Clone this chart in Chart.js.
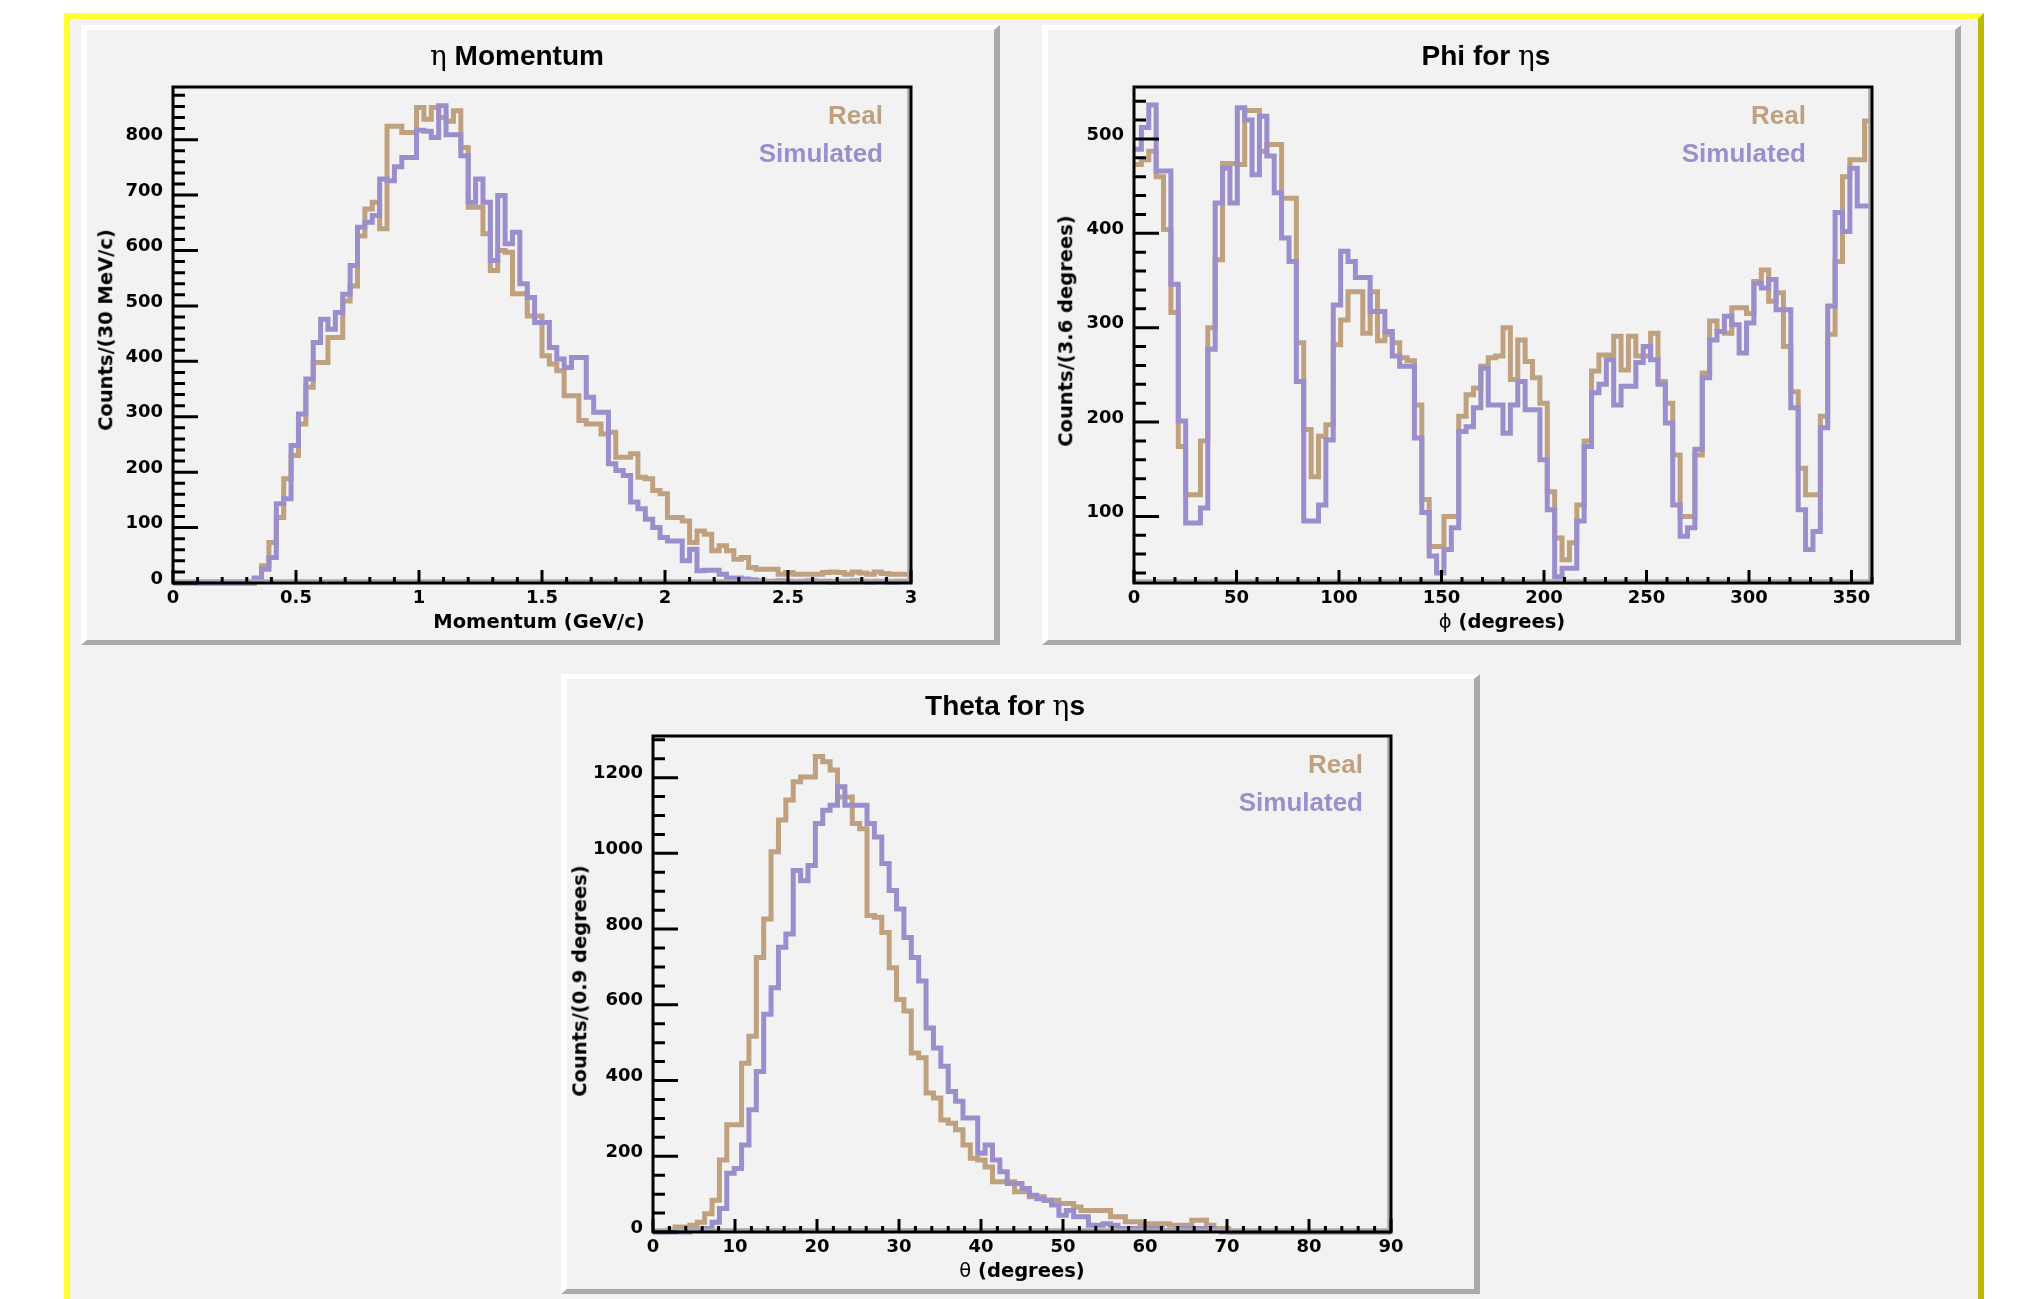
<!DOCTYPE html>
<html>
<head>
<meta charset="utf-8">
<script src="https://cdn.jsdelivr.net/npm/chart.js@4.4.1/dist/chart.umd.min.js"></script>
<style>
html,body{margin:0;padding:0;background:#fff;}
body{width:2036px;height:1299px;overflow:hidden;position:relative;}
#yframe{position:absolute;left:64px;top:13px;width:1908px;height:1330px;border:6px solid;border-color:#ffff33 #b9b900 #b9b900 #ffff33;background:#f2f2f2;}
.pad{position:absolute;width:919px;height:620px;box-sizing:border-box;border-style:solid;border-width:5px 6px 5px 6px;border-color:#ffffff #aaaaaa #aaaaaa #ffffff;background:#f2f2f2;}
canvas{position:absolute;}
.title{position:absolute;font-family:"Liberation Sans",Arial,sans-serif;font-weight:bold;font-size:28px;line-height:28px;color:#000;white-space:nowrap;transform:translateX(-50%);}
.greek{font-family:"DejaVu Serif",serif;font-weight:normal;}
.leg{position:absolute;width:300px;text-align:right;font-family:"Liberation Sans",Arial,sans-serif;font-weight:bold;font-size:26px;line-height:26px;white-space:nowrap;}
.xt{position:absolute;font-family:"DejaVu Sans",sans-serif;font-weight:bold;font-size:19.5px;line-height:19.5px;color:#000;white-space:nowrap;transform:translateX(-50%);}
.yt{position:absolute;font-family:"DejaVu Sans",sans-serif;font-weight:bold;font-size:19.5px;line-height:19.5px;color:#000;white-space:nowrap;transform:translate(-50%,-50%) rotate(-90deg);}
.sym{font-family:"DejaVu Sans",sans-serif;font-weight:normal;}
</style>
</head>
<body>
<div id="yframe"></div>
<div class="pad" style="left:81px;top:25px;"></div>
<div class="pad" style="left:1042px;top:25px;"></div>
<div class="pad" style="left:561px;top:674px;"></div>
<canvas id="c1" width="919" height="620" style="left:81px;top:25px;"></canvas>
<canvas id="c2" width="919" height="620" style="left:1042px;top:25px;"></canvas>
<canvas id="c3" width="919" height="620" style="left:561px;top:674px;"></canvas>

<div class="title" style="left:517px;top:42px;"><span class="greek">η</span> Momentum</div>
<div class="title" style="left:1486px;top:42px;">Phi for <span class="greek">η</span>s</div>
<div class="title" style="left:1005px;top:692px;">Theta for <span class="greek">η</span>s</div>

<div class="leg" style="left:583px;top:102px;color:#bfa07f;">Real</div>
<div class="leg" style="left:583px;top:140px;color:#9a8fcc;">Simulated</div>
<div class="leg" style="left:1506px;top:102px;color:#bfa07f;">Real</div>
<div class="leg" style="left:1506px;top:140px;color:#9a8fcc;">Simulated</div>
<div class="leg" style="left:1063px;top:751px;color:#bfa07f;">Real</div>
<div class="leg" style="left:1063px;top:789px;color:#9a8fcc;">Simulated</div>

<div class="xt" style="left:539px;top:612px;">Momentum (GeV/c)</div>
<div class="xt" style="left:1502px;top:612px;"><span class="sym">ϕ</span> (degrees)</div>
<div class="xt" style="left:1022px;top:1261px;"><span class="sym">θ</span> (degrees)</div>

<div class="yt" style="left:106px;top:330px;">Counts/(30 MeV/c)</div>
<div class="yt" style="left:1066px;top:331px;">Counts/(3.6 degrees)</div>
<div class="yt" style="left:580px;top:981px;">Counts/(0.9 degrees)</div>

<script>
// ---------------- data ----------------
// eta momentum: 100 bins of 30 MeV/c from 0 to 3 GeV/c
const momentumReal = [
  0,0,0,0,0,0,0,0,0,0,0,
  7,31,73,118,188,230,287,353,398,398,
  443,443,509,536,626,675,687,639,824,824,
  813,813,858,837,858,840,833,852,786,678,
  678,630,564,600,597,522,522,482,482,410,
  395,383,338,338,293,287,287,269,272,227,
  227,233,191,188,167,161,118,118,112,73,
  94,88,58,67,58,43,46,28,25,25,
  25,16,19,16,16,16,16,19,20,19,
  16,20,18,16,20,17,16,16,16
];
const momentumSim = [
  0,0,0,0,0,0,0,0,0,0,0,
  9,25,46,143,152,248,305,368,434,476,
  458,488,521,573,642,651,663,729,726,751,
  768,768,817,815,804,861,809,809,771,687,
  729,687,582,699,612,633,540,515,470,470,
  425,404,389,407,407,335,308,308,215,203,
  194,146,134,115,100,82,76,76,40,61,
  22,23,23,16,9,9,7,6,4,3,
  3,4,3,2,3,4,3,3,2,3,
  3,4,3,2,3,3,2,3,3
];
// phi: 100 bins of 3.6 degrees from 0 to 360
const phiReal = [
  473,478,487,460,404,316,174,123,123,180,
  300,372,474,474,473,530,530,487,494,494,
  437,437,284,192,142,185,197,282,308,338,
  338,294,338,286,293,284,268,265,218,118,
  68,68,100,100,206,229,236,259,268,270,
  300,245,287,264,247,220,126,77,54,72,
  112,180,254,271,271,291,255,291,270,270,
  294,243,220,165,100,100,165,252,307,296,
  294,321,321,315,349,361,328,337,280,232,
  151,123,123,206,293,370,460,478,478,519
];
const phiSim = [
  489,512,536,466,466,346,201,93,93,109,
  277,432,469,432,533,520,462,524,482,443,
  395,370,243,95,95,112,181,324,381,370,
  353,353,317,317,296,270,259,259,183,104,
  58,40,65,88,190,195,215,257,218,218,
  188,218,243,213,213,160,107,36,45,45,
  95,174,231,240,266,218,238,238,263,280,
  266,240,199,112,79,88,171,247,287,296,
  312,303,273,305,347,342,351,319,319,215,
  107,65,84,194,323,422,402,469,429,429
];
// theta: 100 bins of 0.9 degrees from 0 to 90
const thetaReal = [
  0,0,5,13,13,18,26,48,84,190,
  283,283,446,517,725,827,1004,1088,1141,1189,
  1202,1202,1256,1242,1220,1149,1149,1079,1065,836,
  831,791,698,614,584,473,460,367,354,296,
  287,270,230,195,190,172,133,133,133,106,
  106,93,93,84,84,75,75,66,57,57,
  57,57,40,40,27,27,22,22,22,22,
  18,18,18,31,31,18,9,9,0,0,
  0,0,0,0,0,0,0,0,0,0,
  0,0,0,0,0,0,0,0,0,0
];
const thetaSim = [
  0,0,0,0,0,4,5,9,26,62,
  155,168,230,323,424,575,645,752,787,955,
  928,968,1079,1114,1127,1176,1127,1127,1127,1079,
  1043,973,902,853,778,725,663,539,486,438,
  371,345,301,301,208,230,190,159,128,128,
  115,97,88,84,71,44,57,40,40,18,
  18,22,18,9,9,9,9,9,9,4,
  4,9,9,9,9,9,4,0,0,0,
  0,0,0,0,0,0,0,0,0,0,
  0,0,0,0,0,0,0,0,0,0
];

// tick labels
const momentumTicksX = [0, 0.5, 1, 1.5, 2, 2.5, 3];
const momentumTicksY = [0, 100, 200, 300, 400, 500, 600, 700, 800];
const phiTicksX = [0, 50, 100, 150, 200, 250, 300, 350];
const phiTicksY = [100, 200, 300, 400, 500];
const thetaTicksX = [0, 10, 20, 30, 40, 50, 60, 70, 80, 90];
const thetaTicksY = [0, 200, 400, 600, 800, 1000, 1200];

// ---------------- helpers ----------------
const REAL_COLOR = '#bfa07f';
const SIM_COLOR = '#9a8fcc';

function histPoints(lo, width, vals) {
  const pts = vals.map((v, i) => ({x: lo + i * width, y: v}));
  pts.push({x: lo + vals.length * width, y: vals[vals.length - 1]});
  return pts;
}
function steps(from, to, step) {
  const out = [];
  const n = Math.round((to - from) / step);
  for (let i = 0; i <= n; i++) out.push(+(from + i * step).toFixed(6));
  return out;
}

const rootFrame = {
  id: 'rootFrame',
  afterDatasetsDraw(chart) {
    const o = chart.options.plugins.rootFrame;
    const {ctx, chartArea: a} = chart;
    const xs = chart.scales.x, ys = chart.scales.y;
    ctx.save();
    // inner shadow of frame (right & bottom)
    ctx.strokeStyle = '#aaaaaa';
    ctx.lineWidth = 2.5;
    ctx.beginPath();
    ctx.moveTo(a.right - 2.5, a.top + 1); ctx.lineTo(a.right - 2.5, a.bottom - 2);
    ctx.moveTo(a.left + 1, a.bottom - 2.5); ctx.lineTo(a.right - 2, a.bottom - 2.5);
    ctx.stroke();
    // ticks
    ctx.strokeStyle = '#000';
    ctx.lineWidth = 3;
    ctx.lineCap = 'butt';
    ctx.beginPath();
    o.xMinor.forEach(v => { const p = xs.getPixelForValue(v); ctx.moveTo(p, a.bottom); ctx.lineTo(p, a.bottom - 6); });
    o.xMajor.forEach(v => { const p = xs.getPixelForValue(v); ctx.moveTo(p, a.bottom); ctx.lineTo(p, a.bottom - 13); });
    o.yMinor.forEach(v => { const p = ys.getPixelForValue(v); ctx.moveTo(a.left, p); ctx.lineTo(a.left + 12, p); });
    o.yMajor.forEach(v => { const p = ys.getPixelForValue(v); ctx.moveTo(a.left, p); ctx.lineTo(a.left + 25, p); });
    ctx.stroke();
    // frame
    ctx.lineWidth = 3;
    ctx.strokeRect(a.left, a.top, a.right - a.left, a.bottom - a.top);
    ctx.restore();
  }
};

function makeHist(id, cfg) {
  const tickFont = {family: 'DejaVu Sans', weight: 'bold', size: 18};
  const ds = (label, vals, color, order) => ({
    label, data: histPoints(cfg.lo, cfg.bw, vals),
    borderColor: color, backgroundColor: color, borderWidth: 5,
    stepped: 'before', pointRadius: 0, fill: false, order,
    borderJoinStyle: 'miter', borderCapStyle: 'butt', clip: 6
  });
  return new Chart(document.getElementById(id), {
    type: 'line',
    data: {datasets: [ds('Real', cfg.real, REAL_COLOR, 2), ds('Simulated', cfg.sim, SIM_COLOR, 1)]},
    options: {
      responsive: false, animation: false, devicePixelRatio: 1,
      events: [],
      layout: {padding: {left: 0, top: 62, right: 89, bottom: 0}},
      plugins: {
        legend: {display: false}, tooltip: {enabled: false}, title: {display: false},
        rootFrame: {xMajor: cfg.xTicks, xMinor: cfg.xMinor, yMajor: cfg.yMajor, yMinor: cfg.yMinor}
      },
      scales: {
        x: {
          type: 'linear', min: cfg.xmin, max: cfg.xmax,
          grid: {display: false, drawTicks: false}, border: {display: false},
          afterBuildTicks: s => { s.ticks = cfg.xTicks.map(v => ({value: v})); },
          afterFit: s => { s.height = 62; },
          ticks: {font: tickFont, color: '#000', padding: 5, autoSkip: false, maxRotation: 0, minRotation: 0,
                  callback: (v, i) => String(cfg.xTicks[i])}
        },
        y: {
          type: 'linear', min: cfg.ymin, max: cfg.ymax,
          grid: {display: false, drawTicks: false}, border: {display: false},
          afterBuildTicks: s => { s.ticks = cfg.yTicks.map(v => ({value: v})); },
          afterFit: s => { s.width = 92; },
          ticks: {font: tickFont, color: '#000', padding: 10, labelOffset: -4, autoSkip: false,
                  callback: (v, i) => String(cfg.yTicks[i])}
        }
      }
    },
    plugins: [rootFrame]
  });
}

makeHist('c1', {
  lo: 0, bw: 0.03, real: momentumReal, sim: momentumSim,
  xmin: 0, xmax: 3, ymin: 0, ymax: 895,
  xTicks: momentumTicksX, yTicks: momentumTicksY,
  xMinor: steps(0, 3, 0.1), yMajor: momentumTicksY, yMinor: steps(0, 880, 20)
});
makeHist('c2', {
  lo: 0, bw: 3.6, real: phiReal, sim: phiSim,
  xmin: 0, xmax: 360, ymin: 29.4, ymax: 555,
  xTicks: phiTicksX, yTicks: phiTicksY,
  xMinor: steps(0, 360, 10), yMajor: phiTicksY, yMinor: steps(40, 540, 20)
});
makeHist('c3', {
  lo: 0, bw: 0.9, real: thetaReal, sim: thetaSim,
  xmin: 0, xmax: 90, ymin: 0, ymax: 1310,
  xTicks: thetaTicksX, yTicks: thetaTicksY,
  xMinor: steps(0, 90, 2), yMajor: thetaTicksY, yMinor: steps(0, 1300, 50)
});
</script>
</body>
</html>
